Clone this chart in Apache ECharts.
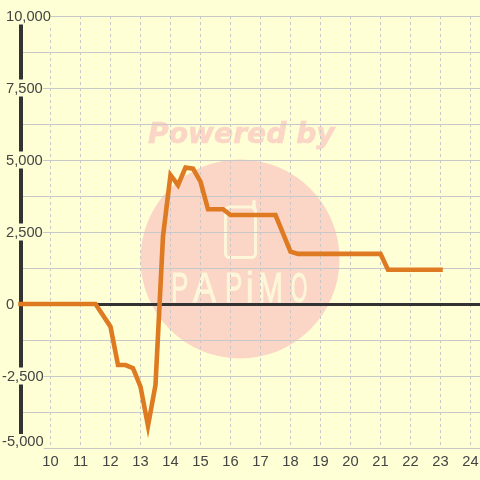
<!DOCTYPE html>
<html><head><meta charset="utf-8">
<style>html,body{margin:0;padding:0;background:#ffffd5}#c{width:480px;height:480px}</style>
<script src="https://cdn.jsdelivr.net/npm/echarts@6/dist/echarts.min.js"></script></head>
<body><div id="c"></div>
<script>
const xValues=[9,11.5,12,12.25,12.5,12.75,13,13.25,13.5,13.75,14,14.25,14.5,14.75,15,15.25,15.75,16,17.5,18,18.25,21,21.25,23];
const yValues=[0,0,-790,-2120,-2120,-2230,-2870,-4230,-2810,2350,4480,4130,4740,4700,4250,3290,3290,3090,3090,1820,1740,1740,1190,1190];
const yTickLabels={'10000':'10,000','7500':'7,500','5000':'5,000','2500':'2,500','0':'0','-2500':'-2,500','-5000':'-5,000'};
const watermarkTitle='Powered by';
const watermarkLetters=['P','A','P','i','M','O'];
const letterLeft=[171,193,225,246,258,291];
const letterScale=[0.62,0.82,0.62,0.8,0.72,0.5];
const bg='#ffffd5',grey='#c8c8c8',dark='#333333',text='#444444',pink='#fbd5c5',cream='#fdf6d8',orange='#de7a22';
const chart=echarts.init(document.getElementById('c'),null,{renderer:'canvas'});
const font='"Liberation Sans"',fs=14.7;
chart.setOption({
 backgroundColor:bg,animation:false,
 grid:{left:20.5,right:0,top:16,bottom:32,outerBoundsMode:'none'},
 graphic:[
  {type:'circle',z:-10,shape:{cx:240,cy:259,r:99.5},style:{fill:pink}},
  {type:'text',z:-10,x:148,y:122,style:{text:watermarkTitle,fill:pink,font:'italic bold 28.2px "DejaVu Sans"',stroke:pink,lineWidth:0.6}},
  {type:'rect',z:-9,shape:{x:225.5,y:207,width:30,height:50.5,r:4},style:{fill:'none',stroke:cream,lineWidth:3}},
  {type:'line',z:-9,shape:{x1:254,y1:201.5,x2:254,y2:209},style:{stroke:cream,lineWidth:3.5,lineCap:'round'}},
  ...watermarkLetters.map((c,i)=>({type:'text',z:-9,x:letterLeft[i],y:269,scaleX:letterScale[i],
     style:{text:c,fill:cream,stroke:cream,lineWidth:1,font:'42px "Liberation Sans"'}}))
 ],
 xAxis:[{type:'value',min:9,max:24.317,interval:1,position:'bottom',
   axisLine:{show:false,onZero:false},axisTick:{show:false},
   splitLine:{show:true,lineStyle:{color:grey,type:[3,3],width:1}},
   axisLabel:{show:true,color:text,fontFamily:font,fontSize:fs,margin:6,showMinLabel:false,showMaxLabel:false,hideOverlap:false,
     formatter:v=>String(v)}},
  {type:'value',min:9,max:24.317,interval:1,position:'bottom',
   axisLine:{show:true,onZero:true,lineStyle:{color:dark,width:3}},axisTick:{show:false},splitLine:{show:false},axisLabel:{show:false}}],
 yAxis:{type:'value',min:-5000,max:10000,interval:2500,
   axisLine:{show:true,onZero:false,lineStyle:{color:dark,width:4}},axisTick:{show:false},
   splitLine:{show:true,lineStyle:{color:grey,width:1}},
   minorTick:{show:false,splitNumber:2},minorSplitLine:{show:true,lineStyle:{color:grey,width:1}},
   axisLabel:{color:text,fontFamily:font,fontSize:fs,margin:18.5,align:'left',backgroundColor:bg,
     rich:{p:{padding:[2,0,0,4],fontFamily:font,fontSize:fs,color:text},
           n:{padding:[2,0,0,0],fontFamily:font,fontSize:fs,color:text},
           m:{padding:[0,0,13,0],fontFamily:font,fontSize:fs,color:text}},
     formatter:v=>(v===-5000?'{m|':v<0?'{n|':'{p|')+yTickLabels[String(v)]+'}'}},
 series:[{type:'line',xAxisIndex:0,data:xValues.map((x,i)=>[x,yValues[i]]),showSymbol:false,symbol:'none',clip:false,
   lineStyle:{color:orange,width:4.6,cap:'square',join:'miter'},silent:true}]
});
</script></body></html>
